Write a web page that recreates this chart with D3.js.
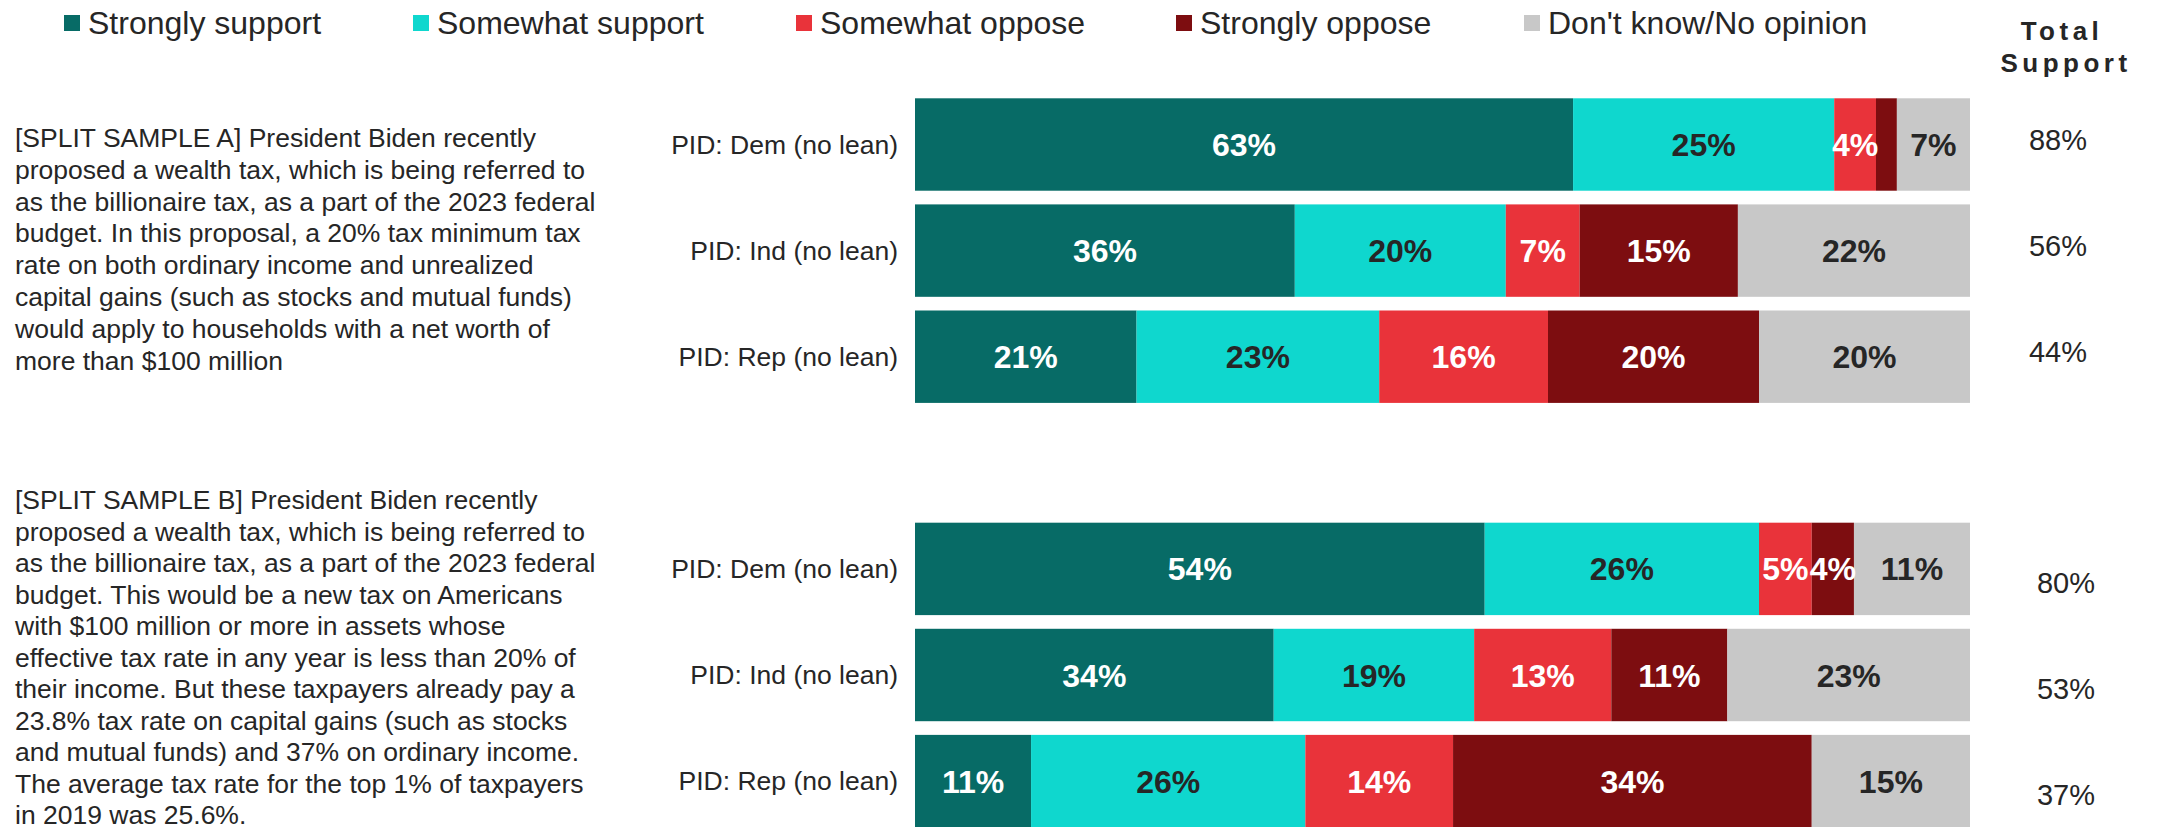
<!DOCTYPE html>
<html>
<head>
<meta charset="utf-8">
<script src="https://cdn.jsdelivr.net/npm/d3@7"></script>
<style>
  html, body { margin: 0; padding: 0; background: #ffffff; overflow: hidden; }
  svg { display: block; font-family: "Liberation Sans", Arial, sans-serif; }
</style>
</head>
<body>
<svg id="chart" width="2159" height="827"></svg>
<script>
// Response categories (stack order, left to right)
const responses = ["Strongly support", "Somewhat support", "Somewhat oppose", "Strongly oppose", "Don't know/No opinion"];
const responseColors = ["#076b66", "#0fd7ce", "#e9333a", "#7d0d10", "#c8c8c8"];
const labelColors = ["#ffffff", "#262626", "#ffffff", "#ffffff", "#262626"];

// Party groups
const parties = ["PID: Dem (no lean)", "PID: Ind (no lean)", "PID: Rep (no lean)"];

// Split sample A: shares per response, by party
const sampleA = [
  [63, 25, 4, 2, 7],
  [36, 20, 7, 15, 22],
  [21, 23, 16, 20, 20]
];
// Split sample B
const sampleB = [
  [54, 26, 5, 4, 11],
  [34, 19, 13, 11, 23],
  [11, 26, 14, 34, 15]
];
// Which segments carry a printed value (the thin strongly-oppose slice in row A/Dem has none)
const showA = [
  [true, true, true, false, true],
  [true, true, true, true, true],
  [true, true, true, true, true]
];
const showB = [
  [true, true, true, true, true],
  [true, true, true, true, true],
  [true, true, true, true, true]
];

// Total support column
const totalA = [88, 56, 44];
const totalB = [80, 53, 37];

// Question wording
const questionA = [
  "[SPLIT SAMPLE A] President Biden recently",
  "proposed a wealth tax, which is being referred to",
  "as the billionaire tax, as a part of the 2023 federal",
  "budget. In this proposal, a 20% tax minimum tax",
  "rate on both ordinary income and unrealized",
  "capital gains (such as stocks and mutual funds)",
  "would apply to households with a net worth of",
  "more than $100 million"
];
const questionB = [
  "[SPLIT SAMPLE B] President Biden recently",
  "proposed a wealth tax, which is being referred to",
  "as the billionaire tax, as a part of the 2023 federal",
  "budget. This would be a new tax on Americans",
  "with $100 million or more in assets whose",
  "effective tax rate in any year is less than 20% of",
  "their income. But these taxpayers already pay a",
  "23.8% tax rate on capital gains (such as stocks",
  "and mutual funds) and 37% on ordinary income.",
  "The average tax rate for the top 1% of taxpayers",
  "in 2019 was 25.6%."
];

// ---------- layout ----------
const svg = d3.select("#chart");
const textColor = "#262626";
const barLeft = 915, barRight = 1970;

// Build rows: three for each sample with an empty slot between the samples
const rows = [];
parties.forEach((p, i) => rows.push({ key: "A" + i, party: p, values: sampleA[i], show: showA[i], total: totalA[i], group: "A" }));
const spacerKey = "gap";
parties.forEach((p, i) => rows.push({ key: "B" + i, party: p, values: sampleB[i], show: showB[i], total: totalB[i], group: "B" }));

const y = d3.scaleBand()
  .domain(["A0", "A1", "A2", spacerKey, "B0", "B1", "B2"])
  .range([98.3, 827.3])
  .paddingInner(0.129)
  .paddingOuter(0);

// ---------- legend ----------
const legendX = [64, 413, 796, 1176, 1524];
const legend = svg.append("g");
responses.forEach((r, i) => {
  legend.append("rect")
    .attr("x", legendX[i]).attr("y", 15)
    .attr("width", 16).attr("height", 16)
    .attr("fill", responseColors[i]);
  legend.append("text")
    .attr("x", legendX[i] + 24).attr("y", 33.5)
    .attr("font-size", 32).attr("fill", textColor)
    .text(r);
});

// Total support header
const head = svg.append("text")
  .attr("font-size", 26).attr("font-weight", "bold")
  .attr("letter-spacing", 4.5).attr("fill", textColor)
  .attr("text-anchor", "middle");
head.append("tspan").attr("x", 2062).attr("y", 40).text("Total");
head.append("tspan").attr("x", 2066).attr("y", 72).text("Support");

// ---------- question text ----------
function paragraph(lines, x, y0, step) {
  const t = svg.append("text").attr("font-size", 26.5).attr("fill", textColor);
  lines.forEach((l, i) => {
    t.append("tspan").attr("x", x).attr("y", y0 + i * step).attr("dy", "0.35em").text(l);
  });
}
paragraph(questionA, 15, 137.7, 31.8);
paragraph(questionB, 15, 500, 31.5);

// ---------- bars ----------
const rowG = svg.selectAll("g.row")
  .data(rows)
  .join("g")
  .attr("class", "row")
  .attr("transform", d => `translate(0,${y(d.key)})`);

rowG.each(function (d) {
  const g = d3.select(this);
  const sum = d3.sum(d.values);
  const x = d3.scaleLinear().domain([0, sum]).range([barLeft, barRight]);
  const stacked = [];
  let acc = 0;
  d.values.forEach((v, i) => { stacked.push({ i, v, x0: acc, x1: acc + v, show: d.show[i] }); acc += v; });

  g.selectAll("rect")
    .data(stacked)
    .join("rect")
    .attr("x", s => x(s.x0))
    .attr("width", s => x(s.x1) - x(s.x0))
    .attr("y", 0)
    .attr("height", y.bandwidth())
    .attr("fill", s => responseColors[s.i]);

  g.selectAll("text.val")
    .data(stacked.filter(s => s.show))
    .join("text")
    .attr("class", "val")
    .attr("x", s => (x(s.x0) + x(s.x1)) / 2)
    .attr("y", y.bandwidth() / 2)
    .attr("dy", "0.36em")
    .attr("text-anchor", "middle")
    .attr("font-size", 32)
    .attr("font-weight", "bold")
    .attr("fill", s => labelColors[s.i])
    .text(s => s.v + "%");

  // category label
  g.append("text")
    .attr("x", 898)
    .attr("y", y.bandwidth() / 2)
    .attr("dy", "0.35em")
    .attr("text-anchor", "end")
    .attr("font-size", 26.5)
    .attr("fill", textColor)
    .text(d.party);

  // total support value
  g.append("text")
    .attr("x", d.group === "A" ? 2058 : 2066)
    .attr("y", y.bandwidth() / 2 + (d.group === "A" ? -5 : 14))
    .attr("dy", "0.35em")
    .attr("text-anchor", "middle")
    .attr("font-size", 29)
    .attr("fill", textColor)
    .text(d.total + "%");
});
</script>
</body>
</html>
